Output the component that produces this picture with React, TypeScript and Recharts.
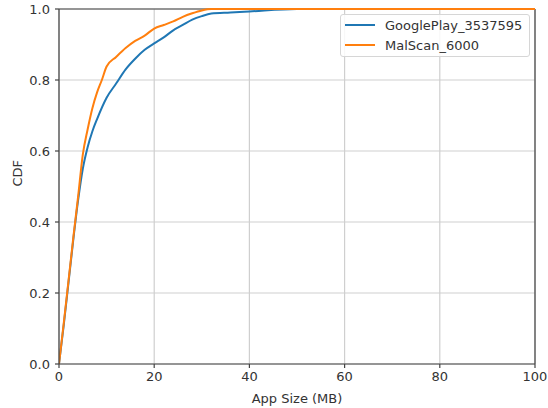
import { CartesianGrid, Line, LineChart, ReferenceLine, XAxis, YAxis } from 'recharts';

const googlePlaySizes = [0, 1, 2, 3, 4, 5, 6, 7, 8, 10, 12, 14, 16, 18, 20, 22, 24, 26, 28, 30, 32, 36, 40, 50, 100];
const googlePlayCdf = [0, 0.11, 0.23, 0.35, 0.46, 0.55, 0.61, 0.655, 0.69, 0.75, 0.79, 0.83, 0.86, 0.885, 0.903, 0.92, 0.94, 0.955, 0.97, 0.98, 0.987, 0.99, 0.993, 1, 1];

const malScanSizes = [0, 1, 2, 3, 4, 5, 6, 7, 8, 9, 10, 12, 14, 16, 18, 20, 22, 24, 26, 28, 30, 32, 100];
const malScanCdf = [0, 0.115, 0.235, 0.355, 0.47, 0.59, 0.66, 0.72, 0.765, 0.8, 0.838, 0.865, 0.89, 0.91, 0.925, 0.945, 0.955, 0.965, 0.978, 0.988, 0.996, 1, 1];

const xTicks = [0, 20, 40, 60, 80, 100];
const yTicks = [0, 0.2, 0.4, 0.6, 0.8, 1.0];

const seriesNames = ['GooglePlay_3537595', 'MalScan_6000'];
const colors = ['#1f77b4', '#ff7f0e'];

const googleData = googlePlaySizes.map((s, i) => ({ size: s, cdf: googlePlayCdf[i] }));
const malData = malScanSizes.map((s, i) => ({ size: s, cdf: malScanCdf[i] }));

const font = 'DejaVu Sans, sans-serif';
const spine = '#444';
const textColor = '#333';

function LegendBox() {
  return (
    <div
      style={{
        position: 'absolute',
        left: 340,
        top: 14,
        width: 190,
        boxSizing: 'border-box',
        background: 'rgba(255,255,255,0.85)',
        border: '1px solid #d6d6d6',
        borderRadius: 3,
        padding: '0px 4px 1px 4px',
        fontFamily: font,
        fontSize: 13,
        color: textColor,
      }}
    >
      {seriesNames.map((n, i) => (
        <div key={n} style={{ display: 'flex', alignItems: 'center', height: 20 }}>
          <div style={{ width: 30, height: 2.5, background: colors[i], marginRight: 10 }} />
          <span>{n}</span>
        </div>
      ))}
    </div>
  );
}

export default function App() {
  return (
    <div style={{ position: 'absolute', left: 0, top: 0, width: 548, height: 408, background: '#fff' }}>
      <LineChart width={548} height={408} margin={{ top: 9, right: 13, bottom: 0, left: 19 }}>
        <CartesianGrid stroke="#cfcfcf" strokeWidth={1.2} verticalValues={xTicks} horizontalValues={yTicks} />
        <XAxis
          type="number"
          dataKey="size"
          domain={[0, 100]}
          ticks={xTicks}
          allowDataOverflow
          height={44}
          stroke={spine}
          strokeWidth={1.2}
          tickSize={4}
          tickMargin={4}
          tick={{ fill: textColor, fontSize: 13, fontFamily: font }}
          label={{ value: 'App Size (MB)', position: 'insideBottom', offset: 3, dy: -2, fill: textColor, fontSize: 13, fontFamily: font }}
        />
        <YAxis
          type="number"
          domain={[0, 1]}
          ticks={yTicks}
          width={40}
          stroke={spine}
          strokeWidth={1.2}
          tickSize={4}
          tickMargin={5}
          tickFormatter={(v: number) => v.toFixed(1)}
          tick={{ fill: textColor, fontSize: 13, fontFamily: font }}
          label={{ value: 'CDF', angle: -90, position: 'insideLeft', offset: 0, dx: -2, fill: textColor, fontSize: 13, fontFamily: font }}
        />
        <ReferenceLine y={1} stroke={spine} strokeWidth={1.2} />
        <ReferenceLine x={100} stroke={spine} strokeWidth={1.2} />
        <Line data={googleData} dataKey="cdf" name={seriesNames[0]} stroke={colors[0]} strokeWidth={2} dot={false} type="monotone" isAnimationActive={false} />
        <Line data={malData} dataKey="cdf" name={seriesNames[1]} stroke={colors[1]} strokeWidth={2} dot={false} type="monotone" isAnimationActive={false} />
      </LineChart>
      <LegendBox />
    </div>
  );
}
